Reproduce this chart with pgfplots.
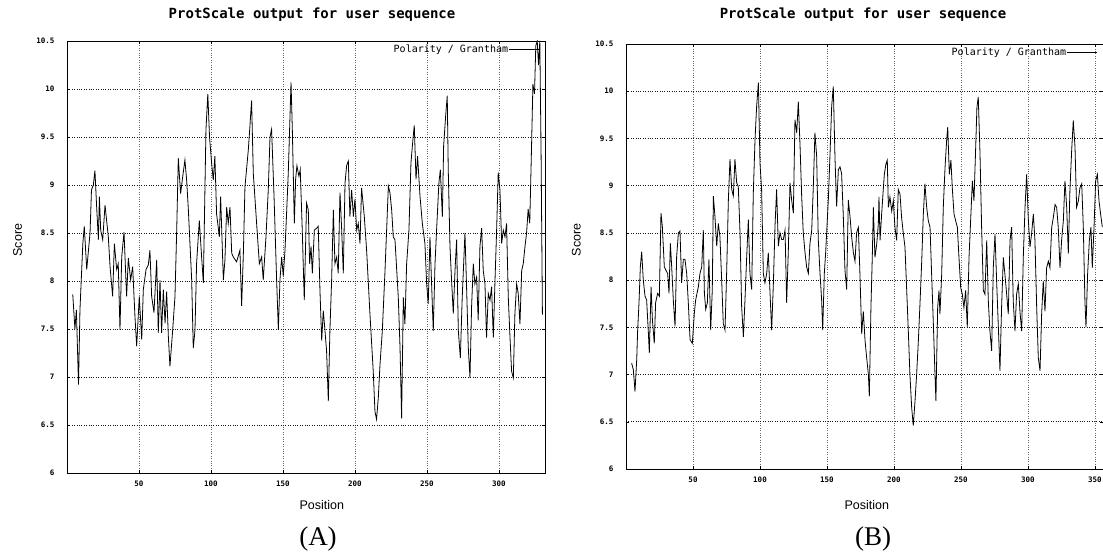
\documentclass[border=0pt]{standalone}
\usepackage{fontspec}
\setmainfont{Liberation Serif}
\newfontfamily\monofont{DejaVu Sans Mono}
\newfontfamily\arialfont{Liberation Sans}
\usepackage{pgfplots}
\pgfplotsset{compat=1.18}

\pgfplotstableread{
x y
4 7.86
5.5 7.5
6.5 7.7
8 6.92
9 7.7
11 8.39
12 8.57
13.7 8.12
16 8.5
17 8.95
18.3 9.0
19.4 9.15
20.6 8.77
21.8 8.43
22.5 8.88
23.4 8.53
24.8 8.43
26.4 8.79
28.7 8.46
29.9 8.15
31.7 7.84
32.9 8.39
34.5 8.12
35.6 8.18
36.8 7.49
38 8.25
39.6 8.51
41.4 7.84
42.6 8.24
44.2 8.01
45.6 8.15
47.2 7.63
48.4 7.32
50.2 7.84
51.9 7.39
53 7.91
54.9 8.12
56.5 8.17
57.6 8.32
58.8 7.84
60.4 7.67
62.3 8.22
63.4 7.46
64.6 8.01
65.7 7.46
66.9 7.91
68.1 7.56
69.2 7.89
70.4 7.42
71.5 7.11
73.4 7.49
75 7.84
76.2 8.53
77.3 9.28
78.9 8.91
80.3 9.08
81.9 9.26
83.1 9.05
84.3 8.74
86.6 8.01
87.7 7.30
88.9 7.49
90 8.18
91.9 8.63
93.5 8.25
94.7 7.98
96.5 9.57
97.8 9.95
99 9.5
100.5 9.22
101.6 9.05
102.7 9.3
103.9 8.7
105.8 8.46
106.7 8.88
108.6 8.01
109.7 8.22
110.9 8.77
112 8.6
113.2 8.77
114.4 8.29
115.5 8.25
117.8 8.2
120.1 8.32
121.3 7.74
122.5 8.29
123.6 8.98
125.9 9.36
127 9.6
128.2 9.88
129.4 9.12
131.7 8.6
133.6 8.18
135.2 8.25
136.3 8.01
138.2 8.46
139.8 8.95
141 9.5
142.1 9.58
143.8 8.88
145.6 8.01
146.8 7.49
147.9 8.01
149.1 8.25
150.2 8.05
151.4 8.32
152.5 8.7
153.7 9.13
155.6 10.07
156.5 9.58
157.9 8.6
158.8 9.06
159.7 9.2
161.1 9.09
162 9.16
163.4 8.53
164.8 7.8
166.4 8.81
167.6 8.74
168.5 8.18
169.5 8.36
170.4 8.08
171.8 8.53
173.4 8.55
174.5 8.57
175.7 7.9
176.9 7.38
178 7.69
179.2 7.48
180.3 7.27
181.5 6.75
182.6 7.48
183.8 8.01
185 8.74
186.1 8.18
187.3 8.25
188.4 8.08
189.6 8.92
190.8 8.53
191.9 8.08
193.1 9.02
194.2 9.2
195.4 9.25
196.5 8.67
197.7 8.95
198.9 8.67
200 8.85
201.2 8.53
202.3 8.6
203.5 8.39
204.6 8.97
206.5 8.67
208.1 8.32
210.4 7.66
212.7 7.06
213.9 6.64
215 6.56
216.2 6.78
217.4 7.13
219 7.48
220.8 8.08
222 8.53
223.2 8.99
224.3 8.92
225.5 8.74
226.6 8.46
227.8 8.43
230.1 7.83
231.3 7.31
232.4 6.57
233.6 7.83
234.7 7.55
235.9 8.18
237.5 8.53
238.9 9.23
240.3 9.48
241.2 9.62
242.4 9.06
243.5 9.3
245.2 8.88
246.8 8.6
248.6 8.39
249.8 7.97
250.9 7.76
252.1 8.46
253.3 7.94
254.4 7.48
255.6 8.18
256.7 8.53
258.3 9.02
259.3 9.16
260.7 8.67
261.6 9.41
263 9.72
264.1 9.93
264.8 9.16
266 8.36
267.1 8.01
268.3 7.66
269.5 8.11
270.6 8.43
271.8 7.48
273.2 7.2
274.5 7.83
275.5 8.18
276.4 8.5
277.6 7.9
278.7 7.31
279.9 6.99
281 7.73
282.2 8.18
283.3 7.97
284.5 8.04
285.6 7.59
286.8 8.36
288 8.55
289.1 8.11
290.3 7.97
291.4 7.41
292.6 7.87
293.8 7.8
294.9 7.94
296.1 7.41
297.2 7.97
298.4 8.53
299.5 9.13
300.7 8.95
301.9 8.39
303 8.53
304.2 8.46
305.3 8.6
306.5 7.83
307.7 7.41
308.8 7.06
310 6.99
311.1 7.66
312.3 7.97
313.4 7.87
314.6 7.55
315.8 8.11
316.9 8.18
318.1 8.36
319.2 8.5
320.3 8.75
321.4 8.6
322.5 9.3
323.6 10.05
324.7 9.95
325.6 10.45
326.6 10.5
327.5 10.25
328.4 10.5
329.3 9.3
330.2 7.65
}\dataA

\pgfplotstableread{
x y
4.2 7.12
5.5 7.05
6.7 6.82
8 7.16
8.7 7.47
9.7 7.76
10.7 8.14
11.7 8.3
12.9 8.0
14.2 7.83
15.4 7.79
16.7 7.44
17.4 7.23
18.7 7.93
19.7 7.58
21.1 7.33
22.1 7.76
23.6 7.86
24.9 7.83
26.1 8.71
27.1 8.57
28.6 8.14
29.6 8.11
31.1 8.07
32.1 7.86
33.1 8.39
34.1 8.14
35.3 7.79
36.6 7.51
37.8 8.25
39.1 8.5
40.3 8.52
41.5 7.97
42.8 8.22
44 8.22
45.3 8.07
46.5 7.76
47.8 7.37
49.5 7.33
51 7.65
52 7.79
53 7.86
54 7.93
55.2 8.07
56.5 8.14
57.7 8.53
58.5 7.86
59.5 7.69
60.7 7.76
61.9 8.22
63.2 7.47
64.4 7.9
65.2 8.89
66.4 8.67
67.7 8.36
68.9 8.6
70.1 8.46
71.4 8.0
72.6 7.54
73.9 7.47
75.1 8.07
76.4 8.85
77.6 9.28
78.9 8.96
80.1 8.89
81.3 9.28
82.6 9.03
83.8 8.99
85.1 8.5
86.3 7.72
87.6 7.4
88.8 7.79
90 8.22
91.3 8.64
92.5 8.07
93.8 7.9
95 8.92
96.3 9.49
97.5 9.84
98.8 10.09
100 9.24
101.2 8.96
102.5 8.07
103.7 7.97
105 8.07
106.2 8.29
107.5 7.86
108.7 7.47
110 7.97
111.2 8.57
112.4 8.96
113.7 8.36
114.9 8.5
116.2 8.43
117.4 8.43
118.7 8.53
119.9 7.76
121.1 8.29
122.4 9.03
123.6 8.85
124.9 8.71
126.1 9.7
127.4 9.56
128.6 9.89
129.9 9.42
131.1 8.89
132.3 8.5
133.6 8.29
134.8 8.14
136.1 8.07
137.3 8.39
138.6 8.53
139.8 8.99
141 9.56
142.3 9.31
143.5 8.43
144.8 8.07
146 7.79
146.8 7.47
148 8.07
149 8.29
150 8.57
151 8.85
152.2 9.31
153.5 9.84
154.7 10.05
156 9.28
157.2 8.78
158.5 9.17
159.7 9.2
160.9 9.13
162.2 8.67
163.4 8.11
164.7 7.9
165.9 8.85
167.2 8.67
168.4 8.46
169.7 8.29
170.9 8.2
172.1 8.5
173.4 8.56
174.6 8.06
175.9 7.43
177.1 7.67
178.4 7.36
179.6 7.18
180.9 7.0
181.6 6.77
182.8 7.71
183.8 8.24
184.6 8.77
185.8 8.24
187.1 8.38
188.3 8.59
188.8 8.88
189.6 8.42
190.8 8.7
192.1 8.98
192.8 9.12
194 9.23
195 9.27
195.8 8.77
197 8.88
198.3 8.73
199.5 8.84
200.7 8.56
202 8.42
203.2 8.96
204.5 8.91
205.7 8.66
207 8.49
208.2 8.35
209.5 7.89
210.7 7.46
211.9 7.0
213.2 6.65
214.4 6.46
215.7 6.72
216.9 7.0
218.2 7.36
219.4 7.75
220.7 8.2
221.9 8.7
223.1 9.02
224.4 8.77
225.6 8.63
226.9 8.56
228.1 8.06
229.4 7.53
230.6 7.0
231.3 6.72
232.6 7.71
233.6 7.89
234.3 7.64
235.6 8.06
236.8 8.77
238.1 9.19
239.3 9.48
240.1 9.62
241.3 9.12
242.5 9.27
243.5 8.98
244.8 8.7
246 8.63
247.3 8.56
248.5 8.24
249.8 7.92
251 7.85
252.2 7.71
253.5 7.89
254.7 7.5
256 8.24
257.2 8.63
258.5 9.05
259.7 8.84
260.9 9.37
261.9 9.83
262.9 9.94
264.2 9.34
265.4 8.56
266.7 7.89
267.9 7.85
269.2 8.42
270.4 7.78
271.6 7.46
272.9 7.25
274.1 8.13
275.4 8.49
276.6 7.99
277.9 7.5
279.1 7.04
280.3 7.71
281.6 8.24
282.8 8.06
284.1 7.85
285.3 7.64
286.6 8.42
287.8 8.56
289 7.78
290.3 7.46
291.5 7.85
292.8 7.96
294 7.67
295.3 7.46
296.5 8.24
297.8 8.77
299 9.12
300.2 8.66
301.5 8.35
302.7 8.49
304 8.7
305.2 8.42
306.5 7.71
307.7 7.18
309 7.04
310.2 7.64
311.4 7.99
312.7 7.67
313.9 8.13
315.2 8.2
316.4 8.13
317.7 8.56
318.9 8.66
320.2 8.8
321.4 8.77
322.6 8.56
323.9 8.13
325.1 8.42
326.4 8.63
327.6 9.05
328.9 8.77
330.1 8.28
331.3 8.95
332.6 9.37
333.8 9.69
335.1 9.41
336.3 8.77
337.6 8.84
338.8 8.98
340.1 9.02
341.3 8.56
342.5 7.78
343.3 7.5
344.5 8.06
345.8 8.42
347 8.56
348 8.13
349.3 8.56
350.5 9.05
351.8 9.12
353 8.84
354.2 8.7
355.5 8.56
}\dataB

\pgfplotsset{
  protscale/.style={
    scale only axis,
    anchor=south west,
    ymin=6, ymax=10.5,
    ytick={6,6.5,7,7.5,8,8.5,9,9.5,10,10.5},
    yticklabels={6,6.5,7,7.5,8,8.5,9,9.5,10,10.5},
    grid=major,
    x grid style={dotted, black!60, line width=0.6pt},
    y grid style={dotted, black!90, line width=0.7pt},
    axis line style={black, line width=0.8pt},
    tick style={black, line width=0.5pt},
    major tick length=3pt,
    /pgf/number format/assume math mode=true,
    ticklabel style={font=\monofont\bfseries\fontsize{7.5}{9}\selectfont},
    yticklabel style={xshift=-9pt},
    xticklabel style={yshift=-4pt},
    title style={font=\monofont\bfseries\fontsize{14}{16}\selectfont, anchor=base},
    xlabel style={font=\arialfont\fontsize{12.5}{14}\selectfont, anchor=center},
    ylabel style={font=\arialfont\fontsize{12.5}{14}\selectfont, anchor=center, rotate=0},
    legend plot pos=right,
    legend style={at={(1,1)}, anchor=north east, xshift=-5pt, yshift=-3pt,
      draw=none, fill=none, inner sep=0pt,
      font=\monofont\fontsize{10}{12}\selectfont,
      nodes={inner sep=1pt}},
    legend image code/.code={\draw[black, line width=0.7pt] (0pt,0pt) -- (30pt,0pt);},
  },
  seriesline/.style={black, line width=0.8pt, mark=none},
}

\begin{document}
\begin{tikzpicture}
\path[use as bounding box] (0pt,0pt) rectangle (1103pt,552pt);

\begin{axis}[protscale,
  at={(67pt,79pt)}, width=478pt, height=432pt,
  xmin=0, xmax=332,
  xtick={50,100,150,200,250,300},
  title={ProtScale output for user sequence},
  title style={at={(axis description cs:0.5126,1.039)}},
  xlabel={Position},
  xlabel style={at={(axis description cs:0.533,-0.074)}},
  ylabel={Score},
  ylabel style={at={(axis description cs:-0.1036,0.539)}},
]
\addplot[seriesline] table[x=x, y=y] {\dataA};
\addlegendentry{Polarity / Grantham}
\end{axis}

\begin{axis}[protscale,
  at={(626pt,83pt)}, width=477pt, height=425pt,
  xmin=0, xmax=356,
  xtick={50,100,150,200,250,300,350},
  title={ProtScale output for user sequence},
  title style={at={(axis description cs:0.497,1.047)}},
  xlabel={Position},
  xlabel style={at={(axis description cs:0.505,-0.085)}},
  ylabel={Score},
  ylabel style={at={(axis description cs:-0.104,0.539)}},
]
\addplot[seriesline] table[x=x, y=y] {\dataB};
\addlegendentry{Polarity / Grantham}
\end{axis}

\node[font=\fontsize{27}{30}\selectfont] at (318pt,13pt) {(A)};
\node[font=\fontsize{27}{30}\selectfont] at (873pt,13pt) {(B)};
\end{tikzpicture}
\end{document}
